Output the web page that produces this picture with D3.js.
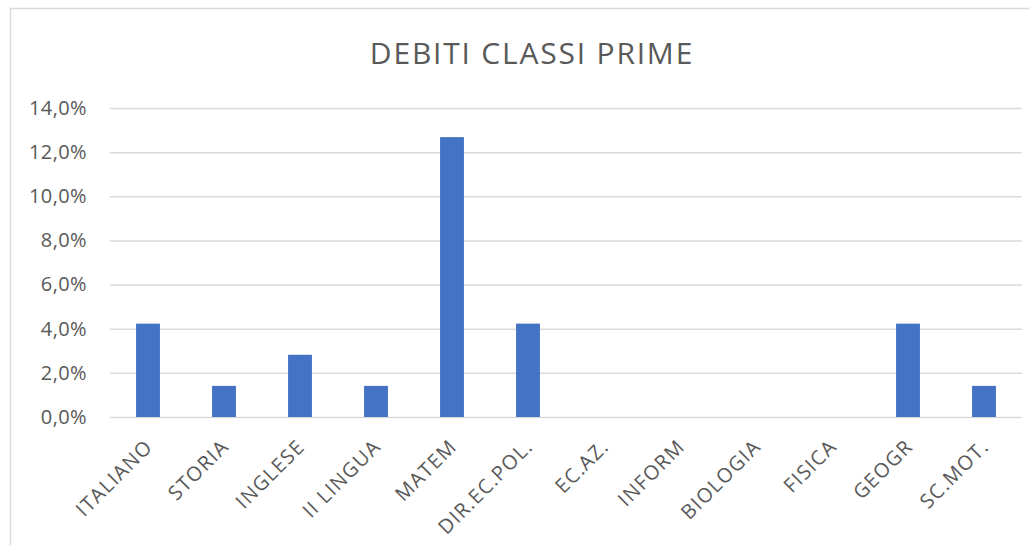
<!DOCTYPE html>
<html><head><meta charset="utf-8">
<script src="https://cdn.jsdelivr.net/npm/d3@7"></script>
<style>body{margin:0;background:#fff}svg{display:block}</style>
</head><body>
<script>
const categories = ["ITALIANO","STORIA","INGLESE","II LINGUA","MATEM","DIR.EC.POL.","EC.AZ.","INFORM","BIOLOGIA","FISICA","GEOGR","SC.MOT."];
const values = [0.0423,0.0141,0.0282,0.0141,0.1268,0.0423,0,0,0,0,0.0423,0.0141];
const yTicks = [0,0.02,0.04,0.06,0.08,0.10,0.12,0.14];
const title = "DEBITI CLASSI PRIME";

const W=1029,H=545;
const svg=d3.select("body").append("svg").attr("width",W).attr("height",H);
const font="Open Sans, Liberation Sans, sans-serif";
svg.append("rect").attr("x",10.5).attr("y",8.5).attr("width",W+10).attr("height",H+10)
  .attr("fill","#fff").attr("stroke","#d9d9d9").attr("stroke-width",1.5);

const x=d3.scaleBand().domain(categories).range([110,1022]).paddingInner(0.686).paddingOuter(0.343);
const y=d3.scaleLinear().domain([0,0.14]).range([417,108]);
const fmt=v=>d3.format(".1f")(v*100).replace(".",",")+"%";

const gy=svg.append("g").attr("transform","translate(110,0)")
  .call(d3.axisLeft(y).tickValues(yTicks).tickSize(-912).tickFormat(fmt).tickPadding(23));
gy.select(".domain").remove();
gy.selectAll("line").attr("stroke","#d9d9d9").attr("stroke-width",1.5);
gy.selectAll("text").attr("fill","#595959").style("font-family",font).style("font-size","20px")
  .style("letter-spacing","0.4px");

svg.append("g").selectAll("rect").data(values).join("rect")
  .attr("x",(d,i)=>x(categories[i])).attr("width",x.bandwidth())
  .attr("y",d=>y(d)).attr("height",d=>y(0)-y(d)).attr("fill","#4472C4");

const gx=svg.append("g").attr("transform","translate(0,417)")
  .call(d3.axisBottom(x).tickSize(0).tickPadding(0));
gx.select(".domain").remove();
gx.selectAll("text").attr("fill","#595959").style("font-family",font).style("font-size","20px")
  .style("letter-spacing","1.25px")
  .attr("text-anchor","end").attr("dy",0).attr("y",0)
  .attr("transform","translate(6,31) rotate(-45)");

svg.append("text").attr("x",532).attr("y",64).attr("text-anchor","middle")
  .attr("fill","#595959").style("font-family",font).style("font-size","30px")
  .style("letter-spacing","1.8px")
  .text(title);
</script>
</body></html>
